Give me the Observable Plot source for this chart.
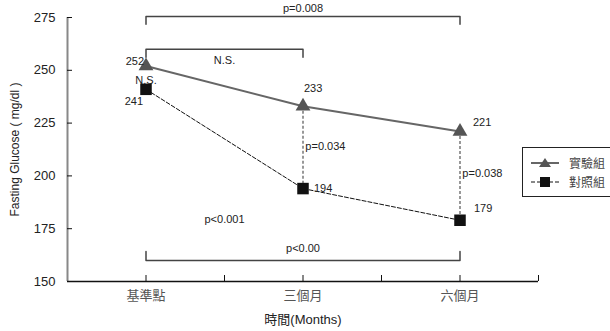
<!DOCTYPE html>
<html><head><meta charset="utf-8">
<script src="https://cdn.jsdelivr.net/npm/d3@7"></script>
<script src="https://cdn.jsdelivr.net/npm/@observablehq/plot@0.6"></script>
<style>
body{margin:0;background:#fff;}
#wrap{position:relative;width:610px;height:331px;font-family:"Liberation Sans",Arial,"Noto Sans CJK TC",sans-serif;}
#legend{position:absolute;left:522px;top:147px;width:96px;height:48px;border:1px solid #222;background:#fff;font-family:"Noto Sans CJK TC",sans-serif;font-size:12px;color:#444;}
.item{position:absolute;left:7px;display:flex;align-items:center;}
.item span{margin-left:9px;line-height:14px;}
</style></head>
<body><div id="wrap"><div id="legend">
<div class="item" style="top:8px"><svg width="30" height="14"><line x1="1" x2="29" y1="7" y2="7" stroke="#666" stroke-width="2"/><path d="M15,2 L21,11 L9,11 Z" fill="#555"/></svg><span>實驗組</span></div>
<div class="item" style="top:27px"><svg width="30" height="14"><line x1="1" x2="29" y1="7" y2="7" stroke="#111" stroke-width="1" stroke-dasharray="4,2"/><rect x="10" y="2" width="10" height="10" fill="#111"/></svg><span>對照組</span></div>
</div></div>
<script>
const categories = ["基準點", "三個月", "六個月"];
const groups = ["實驗組", "對照組"];
const expValues = [252, 233, 221];
const ctrlValues = [241, 194, 179];
const yTicks = [150, 175, 200, 225, 250, 275];
const xTicks = [1, 2, 3, 4, 5, 6];
const catPos = [1, 3, 5];
// brackets: from/to category index, level and leg end (data units), label
const brackets = [
  {from: 0, to: 2, level: 275.5, leg: 271.8, label: "p=0.008", ly: 279.5},
  {from: 0, to: 1, level: 260, leg: 256.2, label: "N.S.", ly: 254.8},
  {from: 0, to: 2, level: 160, leg: 164.2, label: "p<0.00", ly: 165.5}
];
const notes = [
  {label: "N.S.", x: 1, y: 245, anchor: "middle"},
  {label: "p<0.001", x: 2, y: 179.5, anchor: "middle"},
  {label: "p=0.034", x: 3.03, y: 214, anchor: "start"},
  {label: "p=0.038", x: 5.03, y: 201, anchor: "start"}
];
const valueLabels = [
  {v: expValues[0], i: 0, dx: -2, dy: -5, anchor: "end"},
  {v: expValues[1], i: 1, dx: 1, dy: -18, anchor: "start"},
  {v: expValues[2], i: 2, dx: 13, dy: -9, anchor: "start"},
  {v: ctrlValues[0], i: 0, dx: -3, dy: 12, anchor: "end"},
  {v: ctrlValues[1], i: 1, dx: 11, dy: 0, anchor: "start"},
  {v: ctrlValues[2], i: 2, dx: 14, dy: -12, anchor: "start"}
];

const bracketPts = brackets.flatMap((b, k) => [
  {k, x: catPos[b.from], y: b.leg},
  {k, x: catPos[b.from], y: b.level},
  {k, x: catPos[b.to], y: b.level},
  {k, x: catPos[b.to], y: b.leg}
]);
const xi = (d, i) => catPos[i];
const font = "'Liberation Sans', Arial, 'Noto Sans CJK TC', sans-serif";

const chart = Plot.plot({
  width: 610, height: 331,
  marginLeft: 67, marginRight: 72, marginTop: 17, marginBottom: 50,
  style: {fontFamily: font, background: "transparent"},
  x: {type: "linear", domain: [0, 6], axis: null},
  y: {domain: [150, 275], axis: null},
  marks: [
    // y axis
    Plot.ruleX([0], {stroke: "#888", strokeWidth: 2}),
    Plot.tickY(yTicks, {y: d => d, stroke: "#111", strokeWidth: 1, insetRight: 466}),
    Plot.text(yTicks, {y: d => d, frameAnchor: "left", dx: -12, textAnchor: "end", fontSize: 13, fill: "#222"}),
    Plot.axisY({ticks: [], tickSize: 0, label: "Fasting Glucose ( mg/dl )", labelAnchor: "center", labelOffset: 57, labelArrow: "none", fontSize: 12, fill: "#222"}),
    // x axis
    Plot.ruleY([150], {stroke: "#111", strokeWidth: 1.5}),
    Plot.tickX(xTicks, {x: d => d, stroke: "#111", strokeWidth: 1, insetTop: 258}),
    Plot.text(categories, {x: xi, frameAnchor: "bottom", dy: 18, fontSize: 13, fill: "#555", fontFamily: "'Noto Sans CJK TC', sans-serif"}),
    Plot.axisX({ticks: [], tickSize: 0, label: "時間(Months)", labelAnchor: "center", labelOffset: 42, labelArrow: "none", fontSize: 13, fill: "#222", fontWeight: "normal"}),
    // brackets
    Plot.line(bracketPts, {x: "x", y: "y", z: "k", stroke: "#444", strokeWidth: 1.5}),
    Plot.text(brackets, {x: b => (catPos[b.from] + catPos[b.to]) / 2, y: "ly", text: "label", fontSize: 11, fill: "#222"}),
    // vertical dashed rules
    Plot.ruleX([1, 2], {x: i => catPos[i], y1: i => expValues[i], y2: i => ctrlValues[i], stroke: "#777", strokeWidth: 1.5, strokeDasharray: "3,2"}),
    // series
    Plot.line(ctrlValues, {x: xi, y: d => d, stroke: "#111", strokeWidth: 1, strokeDasharray: "4,2"}),
    Plot.line(expValues, {x: xi, y: d => d, stroke: "#666", strokeWidth: 2}),
    Plot.dot(expValues, {x: xi, y: d => d, symbol: "triangle", r: 5.5, fill: "#555"}),
    Plot.dot(ctrlValues, {x: xi, y: d => d, symbol: "square", r: 6.5, fill: "#111"}),
    // value labels
    ...valueLabels.map(d => Plot.text([d], {x: e => catPos[e.i], y: "v", text: e => String(e.v), dx: d.dx, dy: d.dy, textAnchor: d.anchor, fontSize: 11, fill: "#222"})),
    // notes
    ...notes.map(d => Plot.text([d], {x: "x", y: "y", text: "label", textAnchor: d.anchor, fontSize: 11, fill: "#222"}))
  ]
});
document.getElementById("wrap").prepend(chart);
</script>
</body></html>
